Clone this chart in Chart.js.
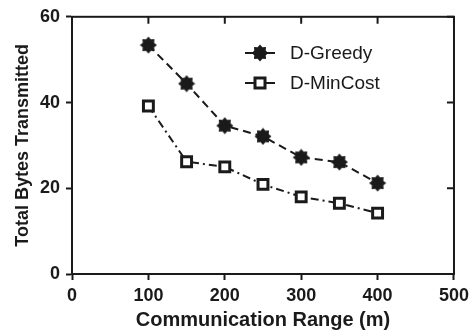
<!DOCTYPE html>
<html>
<head>
<meta charset="utf-8">
<script src="https://cdn.jsdelivr.net/npm/chart.js@4.4.1/dist/chart.umd.min.js"></script>
<style>
  html, body { margin: 0; padding: 0; background: #fff; }
  #wrap { width: 474px; height: 334px; }
</style>
</head>
<body>
<div id="wrap"><canvas id="myChart" width="474" height="334"></canvas></div>
<script>
const rangos = [100, 150, 200, 250, 300, 350, 400];
const greedy = [53.4, 44.4, 34.6, 32.1, 27.2, 26.1, 21.2];
const minCost = [39.2, 26.2, 25.0, 20.9, 18.0, 16.5, 14.2];
const xTicks = [0, 100, 200, 300, 400, 500];
const yTicks = [0, 20, 40, 60];
const etiquetas = ['D-Greedy', 'D-MinCost'];

const negro = '#1a1a1a';
const fuente = '"Liberation Sans", Arial, sans-serif';

// estrella rellena para D-Greedy
function crearEstrella() {
  const c = document.createElement('canvas');
  c.width = 18; c.height = 18;
  const g = c.getContext('2d');
  g.fillStyle = negro;
  g.beginPath();
  for (let i = 0; i < 16; i++) {
    const r = i % 2 === 0 ? 8.5 : 6.2;
    const a = i * Math.PI / 8 - Math.PI / 2;
    const px = 9 + r * Math.cos(a), py = 9 + r * Math.sin(a);
    if (i === 0) g.moveTo(px, py); else g.lineTo(px, py);
  }
  g.closePath();
  g.fill();
  return c;
}
const estrella = crearEstrella();

const marco = {
  id: 'marco',
  afterDraw(chart) {
    const { ctx, chartArea: a, scales } = chart;
    ctx.save();
    ctx.strokeStyle = negro;
    ctx.lineWidth = 2;
    ctx.strokeRect(a.left, a.top, a.right - a.left, a.bottom - a.top);
    // marcas interiores arriba y derecha
    ctx.beginPath();
    xTicks.forEach(v => {
      const px = scales.x.getPixelForValue(v);
      ctx.moveTo(px, a.top);
      ctx.lineTo(px, a.top + 7);
    });
    yTicks.forEach(v => {
      const py = scales.y.getPixelForValue(v);
      ctx.moveTo(a.right, py);
      ctx.lineTo(a.right - 7, py);
    });
    ctx.stroke();

    // leyenda
    const filas = [53, 83];
    ctx.font = '19px ' + fuente;
    ctx.textBaseline = 'middle';
    ctx.fillStyle = negro;
    filas.forEach((y, i) => {
      ctx.beginPath();
      ctx.setLineDash([]);
      ctx.lineWidth = 2;
      ctx.moveTo(245, y);
      ctx.lineTo(275, y);
      ctx.stroke();
      if (i === 0) {
        ctx.drawImage(estrella, 260 - 9, y - 9);
      } else {
        ctx.fillStyle = '#fff';
        ctx.fillRect(255, y - 5, 10, 10);
        ctx.lineWidth = 3;
        ctx.strokeRect(255, y - 5, 10, 10);
        ctx.fillStyle = negro;
      }
      ctx.fillText(etiquetas[i], 290, y + 1);
    });
    ctx.restore();
  }
};

const ctx = document.getElementById('myChart').getContext('2d');
const chart = new Chart(ctx, {
  type: 'line',
  data: {
    datasets: [
      {
        label: etiquetas[0],
        data: rangos.map((x, i) => ({ x: x, y: greedy[i] })),
        borderColor: negro,
        borderWidth: 2,
        borderDash: [8, 5],
        pointStyle: estrella,
        pointRadius: 8,
        fill: false,
        tension: 0
      },
      {
        label: etiquetas[1],
        data: rangos.map((x, i) => ({ x: x, y: minCost[i] })),
        borderColor: negro,
        borderWidth: 2,
        borderDash: [8, 4, 2, 4],
        pointStyle: 'rect',
        pointRadius: 7,
        pointBorderWidth: 3,
        pointBackgroundColor: '#fff',
        pointBorderColor: negro,
        fill: false,
        tension: 0
      }
    ]
  },
  options: {
    responsive: false,
    animation: false,
    layout: { padding: { top: 14, right: 14, left: 12, bottom: 0 } },
    plugins: { legend: { display: false }, tooltip: { enabled: false } },
    scales: {
      x: {
        type: 'linear',
        min: 0,
        max: 500,
        afterBuildTicks: s => { s.ticks = xTicks.map(v => ({ value: v })); },
        afterFit: s => { s.height = 60; },
        grid: { drawOnChartArea: false, tickLength: 6, tickColor: negro, tickWidth: 2 },
        border: { display: true, color: negro, width: 2 },
        ticks: {
          padding: 5,
          color: negro,
          font: { family: fuente, size: 18, weight: 'bold' }
        },
        title: {
          display: true,
          text: 'Communication Range (m)',
          color: negro,
          padding: { top: 0, bottom: 2 },
          font: { family: fuente, size: 20, weight: 'bold' }
        }
      },
      y: {
        min: 0,
        max: 60,
        afterBuildTicks: s => { s.ticks = yTicks.map(v => ({ value: v })); },
        afterFit: s => { s.width = 60; },
        grid: { drawOnChartArea: false, tickLength: 6, tickColor: negro, tickWidth: 2 },
        border: { display: true, color: negro, width: 2 },
        ticks: {
          padding: 6,
          color: negro,
          font: { family: fuente, size: 18, weight: 'bold' }
        },
        title: {
          display: true,
          text: 'Total Bytes Transmitted',
          color: negro,
          padding: { top: 0, bottom: 0 },
          font: { family: fuente, size: 18, weight: 'bold' }
        }
      }
    }
  },
  plugins: [marco]
});
</script>
</body>
</html>
